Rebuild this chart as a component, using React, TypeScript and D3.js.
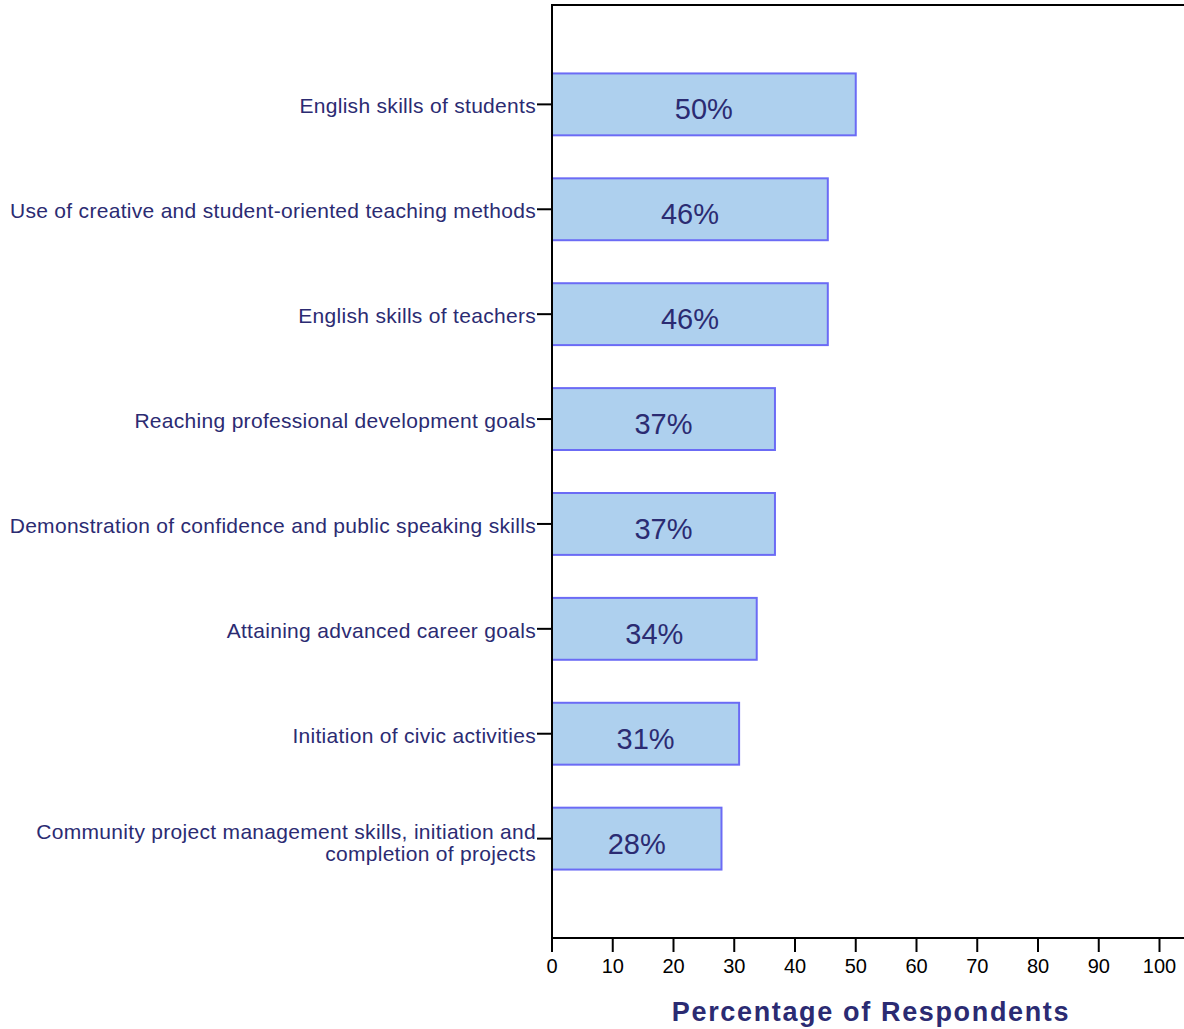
import React from "react";
import * as d3 from "d3";

const categories: string[][] = [
  ["English skills of students"],
  ["Use of creative and student-oriented teaching methods"],
  ["English skills of teachers"],
  ["Reaching professional development goals"],
  ["Demonstration of confidence and public speaking skills"],
  ["Attaining advanced career goals"],
  ["Initiation of civic activities"],
  ["Community project management skills, initiation and", "completion of projects"],
];
const values: number[] = [50, 45.4, 45.4, 36.7, 36.7, 33.7, 30.8, 27.9];
const valueLabels: string[] = ["50%", "46%", "46%", "37%", "37%", "34%", "31%", "28%"];
const xTicks: number[] = [0, 10, 20, 30, 40, 50, 60, 70, 80, 90, 100];
const xTitle = "Percentage of Respondents";

const W = 1184;
const H = 1029;
const left = 552;
const top = 5;
const bottom = 938;

export default function App() {
  const x = d3.scaleLinear().domain([0, 100]).range([left, 1159.5]);
  const y = d3
    .scaleBand<number>()
    .domain(d3.range(categories.length))
    .range([top, bottom])
    .paddingInner(0.41)
    .paddingOuter(0.6525);
  const navy = "#2b2b72";
  const font = "'Liberation Sans', Arial, sans-serif";
  return (
    <svg width={W} height={H} style={{ position: "absolute", left: 0, top: 0, background: "#fff" }} fontFamily={font}>
      {/* frame top */}
      <line x1={left} x2={W} y1={top} y2={top} stroke="#000" strokeWidth={2} />
      {/* bars */}
      {values.map((v, i) => (
        <g key={i}>
          <rect
            x={x(0)}
            y={y(i)!}
            width={x(v) - x(0)}
            height={y.bandwidth()}
            fill="#aed0ee"
            stroke="#6b6bf5"
            strokeWidth={2}
          />
          <text
            x={(x(0) + x(v)) / 2}
            y={y(i)! + y.bandwidth() / 2 + 15}
            textAnchor="middle"
            fontSize={29}
            fill={navy}
          >
            {valueLabels[i]}
          </text>
        </g>
      ))}
      {/* y axis */}
      <line x1={left} x2={left} y1={top - 1} y2={bottom + 1} stroke="#000" strokeWidth={2} />
      {categories.map((lines, i) => {
        const c = y(i)! + y.bandwidth() / 2;
        const n = lines.length;
        return (
          <g key={i}>
            <line x1={left - 15} x2={left} y1={c} y2={c} stroke="#000" strokeWidth={2} />
            {lines.map((ln, j) => (
              <text
                key={j}
                x={left - 16}
                y={c + 9 + (j - (n - 1) / 2) * 22 + (n > 1 ? 2 : 0)}
                textAnchor="end"
                fontSize={21}
                letterSpacing={0.3}
                fill={navy}
              >
                {ln}
              </text>
            ))}
          </g>
        );
      })}
      {/* x axis */}
      <line x1={left - 1} x2={W} y1={bottom} y2={bottom} stroke="#000" strokeWidth={2} />
      {xTicks.map((t) => (
        <g key={t}>
          <line x1={x(t)} x2={x(t)} y1={bottom} y2={bottom + 14} stroke="#000" strokeWidth={2} />
          <text x={x(t)} y={973} textAnchor="middle" fontSize={20} fill="#000">
            {t}
          </text>
        </g>
      ))}
      <text
        x={871}
        y={1021}
        textAnchor="middle"
        fontSize={27}
        fontWeight="bold"
        letterSpacing={1.65}
        fill={navy}
      >
        {xTitle}
      </text>
    </svg>
  );
}
